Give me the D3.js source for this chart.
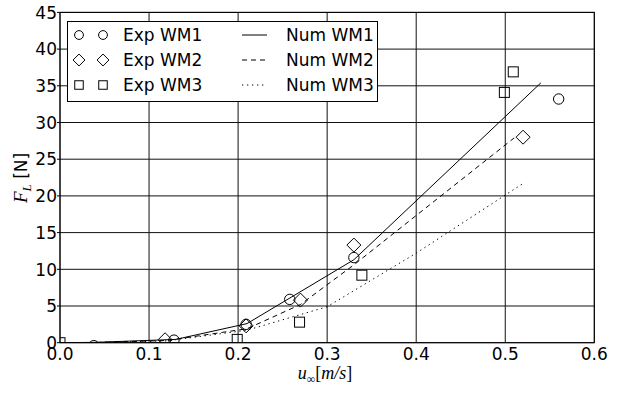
<!DOCTYPE html>
<html>
<head>
<meta charset="utf-8">
<script src="https://cdn.jsdelivr.net/npm/d3@7"></script>
<style>
  body { margin: 0; background: #fff; }
  svg text { font-family: "DejaVu Sans", sans-serif; fill: #000; }
  .math { font-family: "Liberation Serif", "DejaVu Serif", serif; font-style: italic; }
</style>
</head>
<body>
<div class="chart"></div>
<script>
// experimental points
var expWM1_u = [0.038, 0.128, 0.209, 0.258, 0.33, 0.56];
var expWM1_F = [-0.4, 0.35, 2.5, 5.9, 11.6, 33.2];
var expWM2_u = [0.118, 0.209, 0.27, 0.33, 0.52];
var expWM2_F = [0.4, 2.3, 5.8, 13.3, 28.0];
var expWM3_u = [0.0, 0.199, 0.269, 0.339, 0.499, 0.509];
var expWM3_F = [0.0, 0.45, 2.8, 9.2, 34.1, 36.9];
// numerical curves
var numWM1_u = [0.0, 0.04, 0.13, 0.21, 0.33, 0.54];
var numWM1_F = [0.0, 0.05, 0.45, 2.6, 11.3, 35.4];
var numWM2_u = [0.0, 0.04, 0.12, 0.21, 0.27, 0.33, 0.51];
var numWM2_F = [0.0, 0.03, 0.3, 1.9, 5.2, 10.6, 27.9];
var numWM3_u = [0.0, 0.04, 0.12, 0.21, 0.30, 0.40, 0.52];
var numWM3_F = [0.0, 0.03, 0.25, 1.7, 4.9, 12.2, 21.7];

var xTicks = [0.0, 0.1, 0.2, 0.3, 0.4, 0.5, 0.6];
var yTicks = [0, 5, 10, 15, 20, 25, 30, 35, 40, 45];

var width = 622, height = 393;
var x = d3.scaleLinear().domain([0, 0.6]).range([60, 594.3]);
var y = d3.scaleLinear().domain([0, 45]).range([342.7, 12.4]);

function zip(u, f) { return u.map(function(d, i) { return [d, f[i]]; }); }

var svg = d3.select('.chart').append('svg').attr('width', width).attr('height', height);
svg.append('rect').attr('width', width).attr('height', height).attr('fill', '#fff');

svg.append('clipPath').attr('id', 'plotclip').append('rect')
    .attr('x', x(0)).attr('y', y(45)).attr('width', x(0.6) - x(0)).attr('height', y(0) - y(45));

// grid
var grid = svg.append('g').attr('stroke', '#111').attr('stroke-width', 1);
grid.selectAll('.gx').data(xTicks).enter().append('line')
    .attr('x1', function(d) { return x(d); }).attr('x2', function(d) { return x(d); })
    .attr('y1', y(0)).attr('y2', y(45));
grid.selectAll('.gy').data(yTicks).enter().append('line')
    .attr('y1', function(d) { return y(d); }).attr('y2', function(d) { return y(d); })
    .attr('x1', x(0)).attr('x2', x(0.6));

// left tick stubs
svg.append('g').selectAll('line').data(yTicks).enter().append('line')
    .attr('x1', x(0) - 3).attr('x2', x(0))
    .attr('y1', function(d) { return y(d); }).attr('y2', function(d) { return y(d); })
    .attr('stroke', '#000');

// tick labels
svg.append('g').selectAll('text').data(xTicks).enter().append('text')
    .attr('x', function(d) { return x(d); }).attr('y', 360)
    .attr('text-anchor', 'middle').style('font-size', '17px')
    .text(function(d) { return d.toFixed(1); });
svg.append('g').selectAll('text').data(yTicks).enter().append('text')
    .attr('x', 57).attr('y', function(d) { return y(d) + 6.2; })
    .attr('text-anchor', 'end').style('font-size', '17px')
    .text(function(d) { return d; });

var plot = svg.append('g').attr('clip-path', 'url(#plotclip)');

var line = d3.line().x(function(d) { return x(d[0]); }).y(function(d) { return y(d[1]); });
var nums = [
    {pts: zip(numWM1_u, numWM1_F), dash: null},
    {pts: zip(numWM2_u, numWM2_F), dash: '5,4'},
    {pts: zip(numWM3_u, numWM3_F), dash: '1.3,3.7'}
];
nums.forEach(function(s) {
    plot.append('path').attr('d', line(s.pts)).attr('fill', 'none')
        .attr('stroke', '#000').attr('stroke-width', 1)
        .attr('stroke-dasharray', s.dash);
});

function marker(g, type, cx, cy, s) {
    if (type === 'circle') {
        g.append('circle').attr('cx', cx).attr('cy', cy).attr('r', 5.2 * s);
    } else if (type === 'diamond') {
        var h = 7 * s;
        g.append('path').attr('d', 'M' + cx + ',' + (cy - h) + 'L' + (cx + h) + ',' + cy +
            'L' + cx + ',' + (cy + h) + 'L' + (cx - h) + ',' + cy + 'Z');
    } else {
        var a = 5 * s;
        g.append('rect').attr('x', cx - a).attr('y', cy - a).attr('width', 2 * a).attr('height', 2 * a);
    }
}

var exps = [
    {pts: zip(expWM1_u, expWM1_F), type: 'circle'},
    {pts: zip(expWM2_u, expWM2_F), type: 'diamond'},
    {pts: zip(expWM3_u, expWM3_F), type: 'square'}
];
var mk = plot.append('g').attr('fill', 'none').attr('stroke', '#000').attr('stroke-width', 1);
exps.forEach(function(s) {
    s.pts.forEach(function(p) { marker(mk, s.type, x(p[0]), y(p[1]), 1); });
});

// frame
svg.append('rect').attr('x', x(0)).attr('y', y(45))
    .attr('width', x(0.6) - x(0)).attr('height', y(0) - y(45))
    .attr('fill', 'none').attr('stroke', '#000').attr('stroke-width', 1);

// legend
var leg = svg.append('g');
leg.append('rect').attr('x', 67.5).attr('y', 21.5).attr('width', 310).attr('height', 80)
    .attr('fill', '#fff').attr('stroke', '#000').attr('stroke-width', 1);
var expNames = ['Exp WM1', 'Exp WM2', 'Exp WM3'];
var numNames = ['Num WM1', 'Num WM2', 'Num WM3'];
var lm = leg.append('g').attr('fill', 'none').attr('stroke', '#000').attr('stroke-width', 1);
exps.forEach(function(s, i) {
    var cy = 35 + i * 25;
    marker(lm, s.type, 79, cy, 0.85);
    marker(lm, s.type, 103, cy, 0.85);
    leg.append('text').attr('x', 123).attr('y', cy + 6.2).style('font-size', '17px').text(expNames[i]);
    leg.append('line').attr('x1', 242).attr('x2', 267).attr('y1', cy).attr('y2', cy)
        .attr('stroke', '#000').attr('stroke-dasharray', nums[i].dash);
    leg.append('text').attr('x', 286).attr('y', cy + 6.2).style('font-size', '17px').text(numNames[i]);
});

// axis labels
var xl = svg.append('text').attr('x', 325).attr('y', 379).attr('text-anchor', 'middle')
    .style('font-size', '18px');
xl.append('tspan').attr('class', 'math').text('u');
xl.append('tspan').attr('class', 'math').attr('dy', 4).style('font-size', '12px').style('font-style', 'normal').text('∞');
xl.append('tspan').attr('dy', -4).style('font-family', 'Liberation Serif, serif').text('[');
xl.append('tspan').attr('class', 'math').text('m/s');
xl.append('tspan').style('font-family', 'Liberation Serif, serif').text(']');

var yl = svg.append('text').attr('transform', 'translate(27,178) rotate(-90)')
    .attr('text-anchor', 'middle').style('font-size', '17px');
yl.append('tspan').attr('class', 'math').style('font-size', '19px').text('F');
yl.append('tspan').attr('class', 'math').attr('dy', 4).style('font-size', '13px').text('L');
yl.append('tspan').attr('dy', -4).text(' [N]');
</script>
</body>
</html>
